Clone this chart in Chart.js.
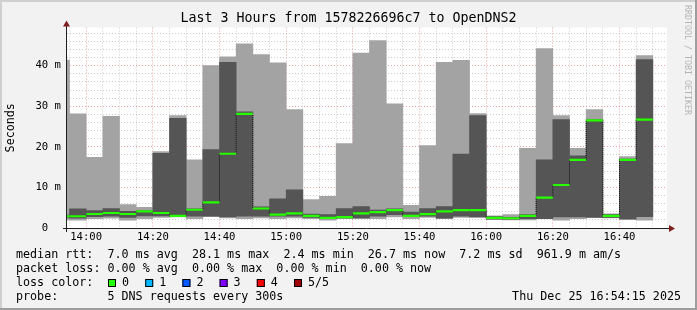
<!DOCTYPE html>
<html>
<head>
<meta charset="utf-8">
<title>Last 3 Hours from 1578226696c7 to OpenDNS2</title>
<script src="https://cdn.jsdelivr.net/npm/chart.js@4.4.1/dist/chart.umd.min.js"></script>
<style>
    html, body { margin: 0; padding: 0; background: #f2f2f2; }
    #wrap { width: 697px; height: 310px; }
</style>
</head>
<body>
<div id="wrap"><canvas id="smokeChart" width="697" height="310"></canvas></div>
<script>
// ===================================
// Smokeping style graph - data
// ===================================

// start of each 5 minute step
const stepTimes = ['13:50', '13:55', '14:00', '14:05', '14:10', '14:15', '14:20', '14:25', '14:30',
    '14:35', '14:40', '14:45', '14:50', '14:55', '15:00', '15:05', '15:10', '15:15', '15:20',
    '15:25', '15:30', '15:35', '15:40', '15:45', '15:50', '15:55', '16:00', '16:05', '16:10',
    '16:15', '16:20', '16:25', '16:30', '16:35', '16:40', '16:45'];

// sorted pings per step (ms): 1st, 2nd, 3rd (median), 4th, 5th
const pingMin    = [2.0, 1.9, 2.3, 2.4, 1.9, 2.3, 2.6, 2.7, 2.3, 2.8, 2.5, 2.3, 2.5, 2.3, 2.5, 2.3, 1.9, 2.3,
    2.3, 2.3, 2.7, 2.3, 2.6, 2.3, 2.6, 2.6, 2.1, 2.0, 2.0, 2.3, 1.9, 2.3, 2.6, 2.5, 2.2, 1.9];
const pingLow    = [2.6, 2.45, 2.8, 2.9, 2.6, 3.0, 3.0, 2.8, 2.9, 2.9, 2.7, 2.9, 2.9, 2.9, 2.9, 2.6, 2.3, 2.5,
    2.5, 2.9, 3.3, 2.9, 2.9, 2.4, 2.9, 2.7, 2.2, 2.2, 2.3, 2.3, 2.7, 2.7, 2.6, 2.6, 2.2, 2.8];
const pingMedian = [2.9, 2.9, 3.45, 3.7, 3.45, 4.1, 3.7, 3.0, 4.5, 6.3, 18.3, 28.1, 4.8, 3.3, 3.6, 3.0, 2.5, 2.7,
    3.6, 3.9, 4.4, 3.0, 3.4, 4.1, 4.4, 4.4, 2.5, 2.4, 3.0, 7.5, 10.6, 16.8, 26.5, 3.0, 16.8, 26.7];
const pingHigh   = [3.2, 4.75, 4.3, 4.8, 4.1, 4.3, 18.4, 27.0, 4.7, 19.3, 40.8, 28.6, 5.2, 7.2, 9.4, 3.4, 3.3, 4.8,
    5.3, 4.4, 4.7, 3.9, 4.8, 5.3, 18.2, 27.7, 2.8, 2.6, 3.3, 16.8, 26.7, 17.8, 26.7, 3.3, 17.0, 41.5];
const pingMax    = [41.4, 28.1, 17.4, 27.5, 5.8, 5.1, 18.8, 27.7, 16.8, 40.0, 42.2, 45.4, 42.7, 40.7, 29.2, 7.0, 7.8, 20.8,
    43.1, 46.2, 30.6, 5.6, 20.3, 40.8, 41.3, 28.2, 3.0, 3.3, 19.6, 44.2, 27.7, 19.6, 29.2, 3.5, 17.6, 42.5];

// axes
const viewStart = '13:54:15';
const viewEnd = '16:54:15';
const xLabelTimes = ['14:00', '14:20', '14:40', '15:00', '15:20', '15:40', '16:00', '16:20', '16:40'];
const yLabelValues = [0, 10, 20, 30, 40];
const yMax = 49.4;

// texts
const titleText = 'Last 3 Hours from 1578226696c7 to OpenDNS2';
const rttLine = 'median rtt:  7.0 ms avg  28.1 ms max  2.4 ms min  26.7 ms now  7.2 ms sd  961.9 m am/s';
const lossLine = 'packet loss: 0.00 % avg  0.00 % max  0.00 % min  0.00 % now';
const lossLabels = ['0', '1', '2', '3', '4', '5/5'];
const lossColors = ['#26ff00', '#00b8ff', '#0059ff', '#7e00ff', '#ff0000', '#a10000'];
const probeLine = 'probe:       5 DNS requests every 300s';
const dateText = 'Thu Dec 25 16:54:15 2025';

// ===================================
// Helpers
// ===================================
const STEP = 5;
const FONT = '"DejaVu Sans Mono", monospace';

function toMinutes(t) {
    const p = t.split(':').map(Number);
    return p[0] * 60 + p[1] + (p[2] || 0) / 60;
}

function fmtTime(m) {
    const h = Math.floor(m / 60);
    const mm = Math.round(m % 60);
    return h + ':' + mm.toString().padStart(2, '0');
}

const centers = stepTimes.map(t => toMinutes(t) + STEP / 2);
const xMin = toMinutes(viewStart);
const xMax = toMinutes(viewEnd);
const xLabelSet = new Set(xLabelTimes.map(toMinutes));

const GRID = 'rgba(143, 143, 143, 0.45)';
const MGRID = 'rgba(222, 79, 79, 0.5)';

function halfStepPx(c) {
    const s = c.chart.scales.x;
    return (s.getPixelForValue(STEP) - s.getPixelForValue(0)) / 2;
}

// ===================================
// Frame, texts, axes
// ===================================
const rrdFrame = {
    id: 'rrdFrame',
    beforeDraw(chart) {
        const ctx = chart.ctx;
        const a = chart.chartArea;
        const w = chart.width, h = chart.height;
        ctx.save();
        ctx.fillStyle = '#f2f2f2';
        ctx.fillRect(0, 0, w, h);
        ctx.fillStyle = '#cfcfcf';
        ctx.fillRect(0, 0, w, 2);
        ctx.fillRect(0, 0, 2, h);
        ctx.fillStyle = '#9e9e9e';
        ctx.fillRect(0, h - 2, w, 2);
        ctx.fillRect(w - 2, 0, 2, h);
        ctx.fillStyle = '#ffffff';
        ctx.fillRect(a.left, a.top, a.right - a.left, a.bottom - a.top);
        ctx.restore();
    },
    afterDraw(chart) {
        const ctx = chart.ctx;
        const a = chart.chartArea;
        ctx.save();

        // axes
        ctx.strokeStyle = '#1f1f1f';
        ctx.lineWidth = 1;
        ctx.beginPath();
        ctx.moveTo(a.left - 0.5, a.top - 2);
        ctx.lineTo(a.left - 0.5, a.bottom + 4);
        ctx.moveTo(a.left - 4, a.bottom + 0.5);
        ctx.lineTo(a.right + 3, a.bottom + 0.5);
        ctx.stroke();

        // arrows
        ctx.fillStyle = '#7f1f1f';
        ctx.beginPath();
        ctx.moveTo(a.left - 0.5, a.top - 7);
        ctx.lineTo(a.left - 4, a.top - 1);
        ctx.lineTo(a.left + 3, a.top - 1);
        ctx.closePath();
        ctx.fill();
        ctx.beginPath();
        ctx.moveTo(a.right + 8, a.bottom + 0.5);
        ctx.lineTo(a.right + 2, a.bottom - 3);
        ctx.lineTo(a.right + 2, a.bottom + 4);
        ctx.closePath();
        ctx.fill();

        // title
        ctx.fillStyle = '#000';
        ctx.textBaseline = 'middle';
        ctx.textAlign = 'center';
        ctx.font = '13.3px ' + FONT;
        ctx.fillText(titleText, chart.width / 2, 19);

        // vertical label
        ctx.font = '11.7px ' + FONT;
        ctx.save();
        ctx.translate(10.5, (a.top + a.bottom) / 2);
        ctx.rotate(-Math.PI / 2);
        ctx.fillText('Seconds', 0, 0);
        ctx.restore();

        // watermark
        ctx.save();
        ctx.fillStyle = '#b4b4b4';
        ctx.font = '8.3px ' + FONT;
        ctx.textAlign = 'left';
        ctx.translate(687, 5);
        ctx.rotate(Math.PI / 2);
        ctx.fillText('RRDTOOL / TOBI OETIKER', 0, 0);
        ctx.restore();

        // legend
        ctx.textAlign = 'left';
        ctx.font = '11.7px ' + FONT;
        ctx.fillText(rttLine, 16, 254.5);
        ctx.fillText(lossLine, 16, 268.5);
        ctx.fillText('loss color:', 16, 282.5);
        lossLabels.forEach((lbl, i) => {
            const bx = 108 + i * 37.2;
            ctx.fillStyle = lossColors[i];
            ctx.fillRect(bx, 279, 8, 8);
            ctx.strokeStyle = '#000';
            ctx.strokeRect(bx + 0.5, 279.5, 7, 7);
            ctx.fillStyle = '#000';
            ctx.fillText(lbl, bx + 14, 282.5);
        });
        ctx.fillText(probeLine, 16, 296.5);
        ctx.textAlign = 'right';
        ctx.fillText(dateText, 681, 296.5);

        ctx.restore();
    }
};

// ===================================
// Chart
// ===================================
Chart.defaults.font.family = FONT;
Chart.defaults.color = '#000';

new Chart(document.getElementById('smokeChart'), {
    type: 'bar',
    data: {
        datasets: [
            {
                type: 'line',
                label: 'median',
                data: centers.map((x, i) => ({ x: x, y: pingMedian[i] })),
                showLine: false,
                pointStyle: 'line',
                pointRadius: halfStepPx,
                pointHoverRadius: halfStepPx,
                pointBorderWidth: 2.2,
                pointBorderColor: lossColors[0],
                clip: 0,
                order: 0
            },
            {
                type: 'line',
                label: 'median step',
                data: centers.map((x, i) => ({ x: x, y: pingMedian[i] })),
                stepped: 'middle',
                borderColor: '#111',
                borderWidth: 1,
                borderDash: [1, 1],
                pointRadius: 0,
                clip: 0,
                order: 1
            },
            {
                label: 'inner smoke',
                data: centers.map((x, i) => ({ x: x, y: [pingLow[i], pingHigh[i]] })),
                backgroundColor: '#555555',
                clip: 0,
                order: 2
            },
            {
                label: 'outer smoke',
                data: centers.map((x, i) => ({ x: x, y: [pingMin[i], pingMax[i]] })),
                backgroundColor: '#a3a3a3',
                clip: 0,
                order: 3
            }
        ]
    },
    options: {
        responsive: false,
        animation: false,
        events: [],
        devicePixelRatio: 1,
        layout: { padding: { top: 27.5, right: 30, left: 0, bottom: 0 } },
        datasets: {
            bar: {
                grouped: false,
                barPercentage: 1,
                categoryPercentage: 1,
                borderWidth: 0,
                borderSkipped: false
            }
        },
        plugins: {
            legend: { display: false },
            tooltip: { enabled: false },
            title: { display: false }
        },
        scales: {
            x: {
                type: 'linear',
                min: xMin,
                max: xMax,
                offset: false,
                z: 1,
                afterFit: s => { s.height = 82; },
                afterBuildTicks: s => {
                    const ticks = [];
                    for (let v = Math.ceil(xMin / STEP) * STEP; v <= xMax; v += STEP) ticks.push({ value: v });
                    s.ticks = ticks;
                },
                grid: {
                    offset: false,
                    drawTicks: false,
                    lineWidth: 1,
                    color: c => xLabelSet.has(c.tick.value) ? MGRID : GRID
                },
                border: { display: false, dash: [1, 2] },
                ticks: {
                    autoSkip: false,
                    maxRotation: 0,
                    padding: 3,
                    font: { size: 10.6 },
                    callback: v => xLabelSet.has(v) ? fmtTime(v) : ''
                }
            },
            y: {
                min: 0,
                max: yMax,
                z: 1,
                afterFit: s => { s.width = 67; },
                afterBuildTicks: s => {
                    const ticks = [];
                    for (let v = 0; v <= yMax; v += 2) ticks.push({ value: v });
                    s.ticks = ticks;
                },
                grid: {
                    drawTicks: false,
                    lineWidth: 1,
                    color: c => c.tick.value === 0 ? 'rgba(0,0,0,0)' :
                        (yLabelValues.includes(c.tick.value) ? MGRID : GRID)
                },
                border: { display: false, dash: [1, 2] },
                ticks: {
                    autoSkip: false,
                    padding: 6,
                    font: { size: 10.6 },
                    callback: v => yLabelValues.includes(v) ? (v === 0 ? '0  ' : v + ' m') : ''
                }
            }
        }
    },
    plugins: [rrdFrame]
});
</script>
</body>
</html>
